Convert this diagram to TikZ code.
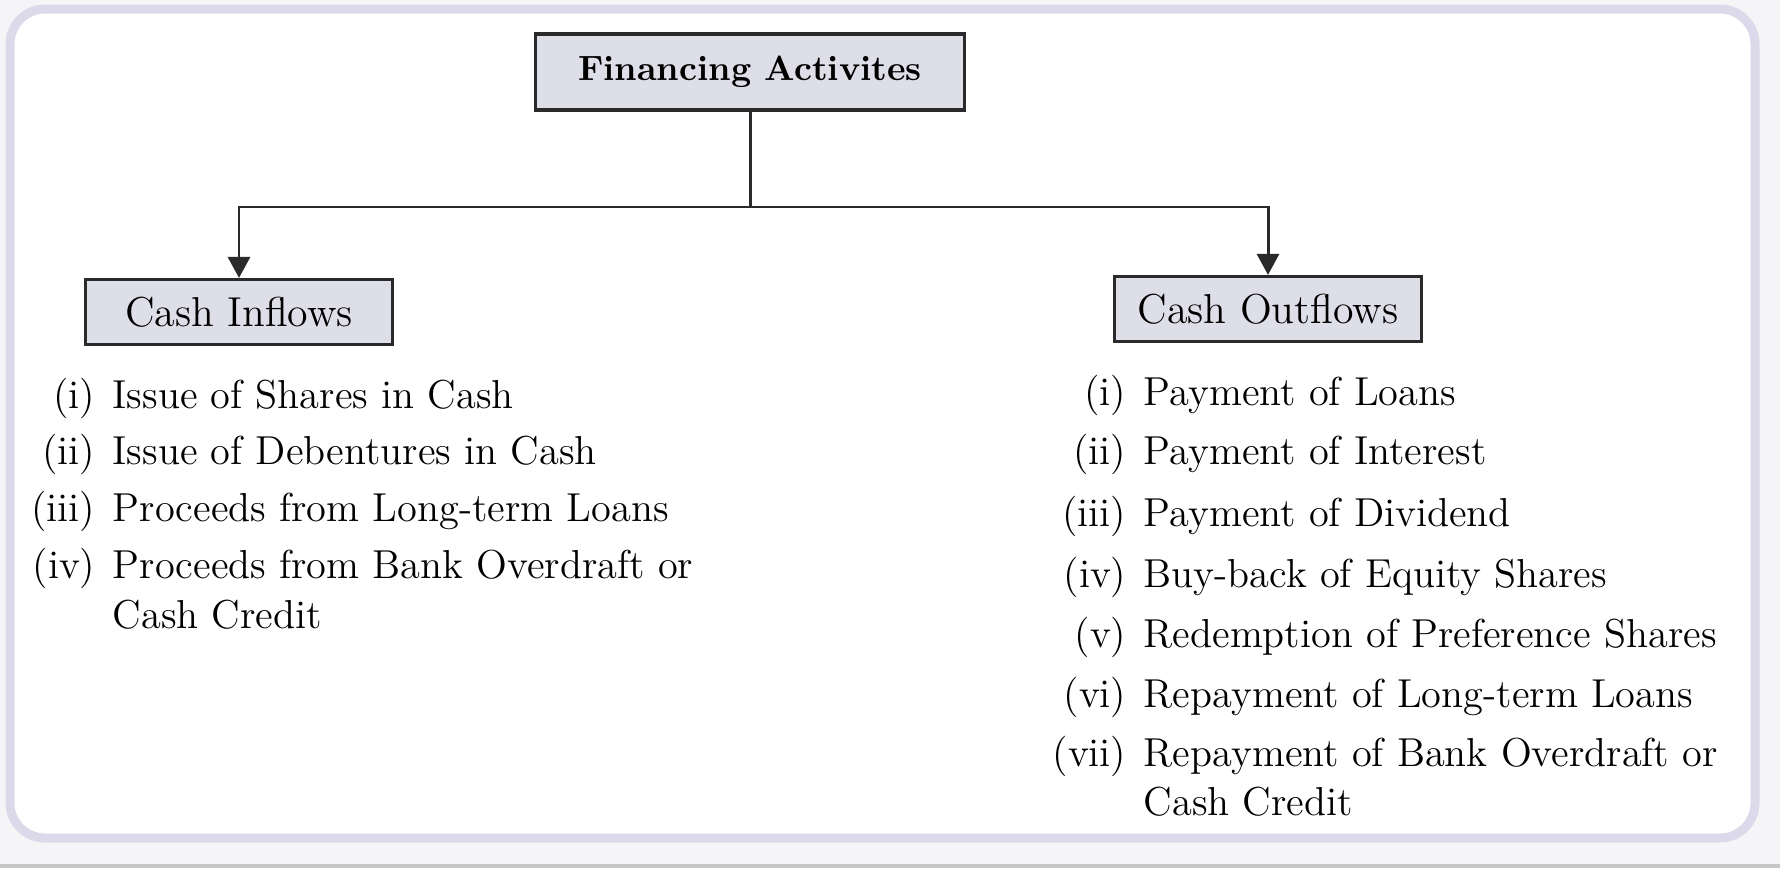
\documentclass[tikz,border=0pt]{standalone}
\usepackage{tikz}
\usetikzlibrary{arrows.meta}
\definecolor{boxfill}{HTML}{DEDEE8}
\definecolor{framelav}{HTML}{DCD9EA}
\definecolor{inkgray}{HTML}{2A2A2A}
\definecolor{pagebg}{HTML}{F5F5F8}
\tikzset{every label/.style={inner sep=0pt,text height=0.72em,text depth=0.24em,font=\fontsize{11.5}{13}\selectfont}}
\tikzset{headbox/.style={draw=inkgray,line width=0.9pt,fill=boxfill,minimum width=42.9mm,minimum height=7.6mm,font=\bfseries\fontsize{10}{12}\selectfont},
         sidebox/.style={draw=inkgray,line width=0.9pt,fill=boxfill,minimum width=30.7mm,minimum height=6.5mm,font=\fontsize{11.9}{13}\selectfont},
         itemtext/.style={anchor=west,inner sep=0pt,text height=0.72em,text depth=0.24em,font=\fontsize{11.5}{13}\selectfont},
         link/.style={draw=inkgray,line width=0.85pt,-{Triangle[width=2.2mm,length=2.1mm]}}}
\newcommand{\cashitem}[5][]{\node[itemtext,label={[label distance=1.6mm]left:#4},#1] at (#2) (#3) {#5}}

\begin{document}
\begin{tikzpicture}[x=0.1mm,y=-0.1mm]
	\useasboundingbox (0,0) rectangle (1780,868);
	\fill[pagebg] (0,0) rectangle (1780,868);
	\fill[gray!45] (0,864) rectangle (1780,868);
	\draw[framelav,line width=0.9mm,rounded corners=3.5mm,fill=white] (10,9) rectangle (1755,838);

	\node[headbox] at (750,72) (fin) {Financing Activites};
	\node[sidebox] at (239,312) (inflow) {Cash Inflows};
	\node[sidebox] at (1268,309) (outflow) {Cash Outflows};
	\coordinate (split) at (750,207);

	\cashitem{112,400}{in1}{(i)}{Issue of Shares in Cash};
	\cashitem{112,456}{in2}{(ii)}{Issue of Debentures in Cash};
	\cashitem{112,513}{in3}{(iii)}{Proceeds from Long-term Loans};
	\cashitem{112,570}{in4}{(iv)}{Proceeds from Bank Overdraft or};
	\node[itemtext] at (112,620) (in4b) {Cash Credit};

	\cashitem{1143,397}{out1}{(i)}{Payment of Loans};
	\cashitem{1143,456}{out2}{(ii)}{Payment of Interest};
	\cashitem{1143,518}{out3}{(iii)}{Payment of Dividend};
	\cashitem{1143,579}{out4}{(iv)}{Buy-back of Equity Shares};
	\cashitem{1143,639}{out5}{(v)}{Redemption of Preference Shares};
	\cashitem{1143,699}{out6}{(vi)}{Repayment of Long-term Loans};
	\cashitem{1143,758}{out7}{(vii)}{Repayment of Bank Overdraft or};
	\node[itemtext] at (1143,807) (out7b) {Cash Credit};

	\draw[draw=inkgray,line width=0.85pt] (fin) -- (split);
	\draw[link] (split) -| (inflow);
	\draw[link] (split) -| (outflow);
\end{tikzpicture}
\end{document}
